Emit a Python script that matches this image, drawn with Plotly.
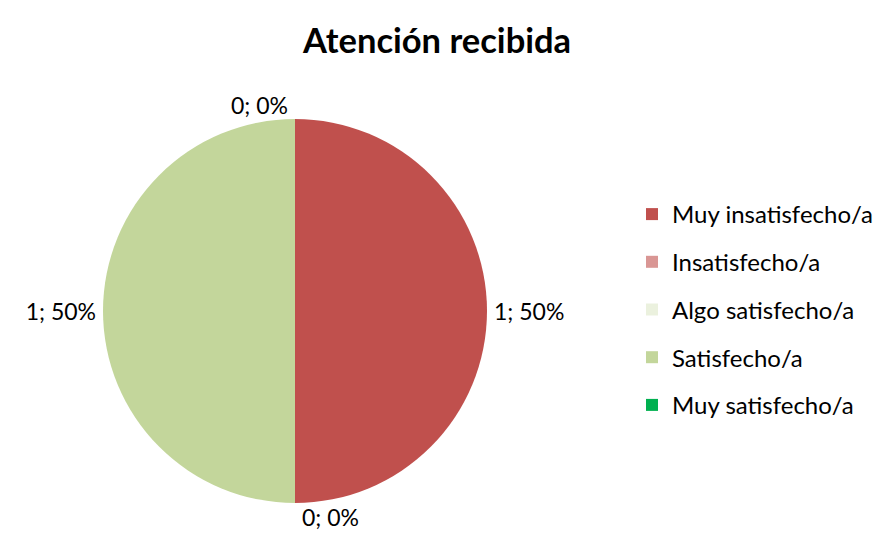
import plotly.graph_objects as go

categories = ["Muy insatisfecho/a", "Insatisfecho/a", "Algo satisfecho/a", "Satisfecho/a", "Muy satisfecho/a"]
values = [1, 0, 0, 1, 0]
colors = ["#C0504D", "#D99694", "#EBF1DE", "#C3D69B", "#00B050"]
label_tpl = ["%{value}; %{percent:.0%}", "%{value}; %{percent:.0%}", "", "%{value}; %{percent:.0%}", "%{value}; %{percent:.0%}"]

FONT = "Lato"
W, H = 884, 543

cx, cy, r = 287, 303, 192
fig = go.Figure()
fig.add_trace(go.Pie(
    labels=categories, values=values, sort=False, direction="clockwise", rotation=0,
    marker=dict(colors=colors), texttemplate=label_tpl,
    textposition="outside", textfont=dict(family=FONT, size=23, color="#000"),
    showlegend=False, hoverinfo="label+value+percent",
    domain=dict(x=[(cx-r)/W, (cx+r)/W], y=[1-(cy+r)/H, 1-(cy-r)/H]),
))
for c, col in zip(categories, colors):
    fig.add_trace(go.Scatter(x=[None], y=[None], mode="markers", name=c, legendgroup=c,
                             marker=dict(symbol="square", size=12, color=col)))

fig.update_layout(
    width=W, height=H, margin=dict(l=0, r=0, t=0, b=0),
    paper_bgcolor="white", plot_bgcolor="white",
    title=dict(text="<b>Atención recibida</b>", x=429/W, xanchor="center", y=1-33/H, yanchor="middle",
               font=dict(family=FONT, size=34.5, color="#000")),
    xaxis=dict(visible=False), yaxis=dict(visible=False),
    legend=dict(x=624/W, xanchor="left", y=1-184/H, yanchor="top", tracegroupgap=13.5,
                font=dict(family=FONT, size=24, color="#000"), itemwidth=30, traceorder="grouped"),
)
fig.write_html("out.html")
